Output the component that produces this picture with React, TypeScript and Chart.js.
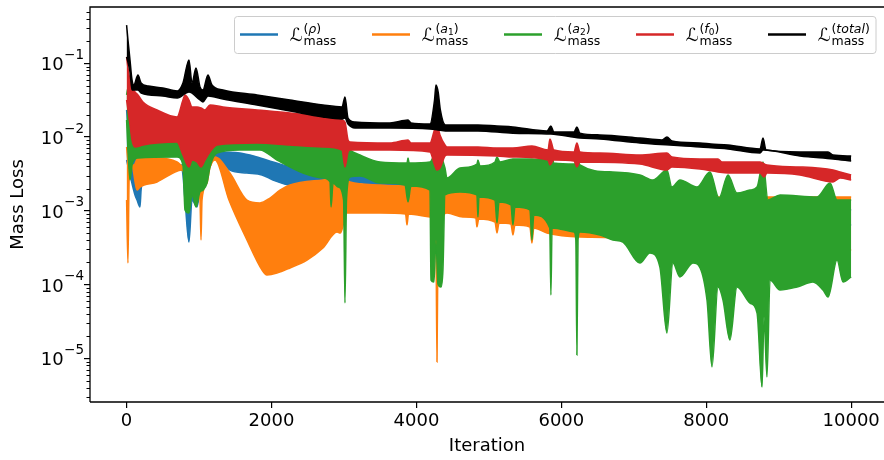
import React, { useEffect, useRef } from 'react';
import { Chart, registerables } from 'chart.js';

Chart.register(...registerables);

// ---------------- data ----------------
const xTickValues = [0, 2000, 4000, 6000, 8000, 10000];
const yTickExponents = [-5, -4, -3, -2, -1];

// total (black)
const totalUpperIter = [0,19,47,75,100,157,200,300,500,700,778,861,903,958,1013,1054,1123,1178,1330,1800,2255,2710,2973,3014,3056,3152,3635,3884,3925,4187,4250,4270,4300,4330,4400,4849,5112,5332,5801,5856,5897,6174,6215,6256,6532,7084,7388,7457,7526,7913,8065,8300,8742,8783,8825,9294,9681,9750,10000];
const totalUpper = [0.33,0.207,0.111,0.0594,0.0508,0.0694,0.0541,0.0492,0.0463,0.0421,0.0541,0.111,0.0541,0.0864,0.0477,0.0434,0.0694,0.0508,0.0434,0.0372,0.0318,0.0272,0.0256,0.0349,0.0181,0.016,0.0155,0.017,0.0155,0.015,0.0318,0.0508,0.0408,0.0233,0.0146,0.0146,0.0141,0.0137,0.0121,0.0141,0.0117,0.0117,0.0137,0.0113,0.0107,0.00971,0.00912,0.01,0.00884,0.0083,0.00805,0.0078,0.00689,0.00971,0.00667,0.00627,0.00627,0.00571,0.00553];
const totalLowerIter = [0,19,47,75,157,200,500,700,861,1013,1054,1123,1330,1800,2255,2710,2973,3014,3056,3152,3635,4187,4400,4849,5332,5856,6256,6532,7084,7913,8300,8742,8783,9294,9750,10000];
const totalLower = [0.1217,0.104,0.0762,0.0434,0.0434,0.0396,0.036,0.0338,0.0408,0.0318,0.0299,0.036,0.0328,0.0272,0.0225,0.0187,0.0176,0.0181,0.015,0.0133,0.0133,0.0129,0.0121,0.0121,0.0113,0.011,0.00971,0.00941,0.0083,0.00733,0.00689,0.00608,0.00667,0.00553,0.00504,0.00473];

// f0 (red)
const f0UpperIter = [0,19,47,75,116,157,226,420,696,778,806,861,903,972,1027,1082,1151,1330,1800,2255,2710,2973,3014,3056,3083,3635,3884,3925,4187,4250,4284,4325,4394,4421,4849,5112,5332,5594,5815,5843,5897,6174,6215,6256,6532,7084,7457,7526,7913,8162,8217,8742,8838,9294,9750,9846,10000];
const f0Upper = [0.122,0.0864,0.0594,0.0477,0.0408,0.0372,0.0299,0.0233,0.0187,0.0318,0.0372,0.0318,0.0256,0.0256,0.0248,0.0233,0.0272,0.0256,0.0233,0.0212,0.0187,0.017,0.016,0.00912,0.00857,0.0083,0.00912,0.0083,0.0083,0.0125,0.0146,0.0107,0.0078,0.00733,0.00733,0.0071,0.0071,0.00756,0.00667,0.00941,0.00667,0.00627,0.0083,0.00627,0.00608,0.00571,0.00608,0.00536,0.00504,0.00504,0.00459,0.00459,0.00418,0.00393,0.00357,0.00336,0.00306];
const f0LowerIter = [0,19,47,75,116,226,420,696,778,861,903,972,1027,1082,1151,1247,1800,2255,2710,2973,3014,3056,3083,3635,4187,4250,4284,4325,4394,4421,5112,5332,5815,5843,5897,6174,6215,6256,7084,7457,7526,7913,8162,8300,8742,8797,8838,9294,9750,9846,10000];
const f0Lower = [0.0318,0.0233,0.0146,0.00912,0.00733,0.0078,0.0083,0.00857,0.00571,0.00393,0.00488,0.00459,0.00393,0.00488,0.00627,0.0078,0.0083,0.0078,0.00733,0.00667,0.00393,0.00627,0.00667,0.00667,0.00627,0.00418,0.00357,0.0038,0.00553,0.00571,0.00553,0.00536,0.00488,0.00418,0.00488,0.00473,0.00393,0.00459,0.00431,0.00357,0.00393,0.00369,0.00336,0.00325,0.00325,0.00287,0.00325,0.00306,0.00246,0.00278,0.00262];

// a2 (green)
const a2UpperIter = [0,19,47,100,700,1300,2900,3014,3083,3221,3497,3870,3884,3900,4187,4284,4394,4421,4601,4835,4849,4877,5084,5112,5153,5332,5594,5830,5856,5897,6190,6215,6256,6711,7084,7264,7457,7526,7637,7871,8051,8176,8300,8424,8604,8701,8783,8852,9018,9529,9708,9805,10000];
const a2Upper = [0.0372,0.0463,0.0318,0.0125,0.0107,0.0107,0.00912,0.0078,0.00667,0.00571,0.00459,0.00445,0.0052,0.00445,0.00459,0.00667,0.0038,0.00278,0.0038,0.00431,0.00488,0.00405,0.00459,0.00536,0.00459,0.00504,0.00504,0.00488,0.00667,0.00445,0.00431,0.00667,0.00418,0.00336,0.00306,0.00262,0.00357,0.0021,0.00262,0.0021,0.00336,0.00149,0.00306,0.00174,0.00191,0.0021,0.00459,0.0014,0.00164,0.00154,0.00238,0.0014,0.0014];
const a2LowerIter = [0,19,47,75,100,157,696,778,806,861,903,958,1013,1054,1110,1151,1247,1564,1841,2075,2434,2710,2807,2822,2850,2918,2995,3014,3035,3083,3221,3497,3842,3884,3925,4187,4201,4242,4270,4297,4339,4366,4394,4601,4835,4849,4863,5084,5112,5140,5304,5332,5360,5566,5594,5620,5840,5856,5872,6174,6200,6215,6230,6256,6532,6711,6849,7084,7222,7360,7457,7540,7637,7816,8010,8079,8162,8231,8327,8424,8604,8701,8770,8797,8838,8880,9018,9253,9473,9611,9681,9805,9888,10000];
const a2Lower = [0.017,0.00667,0.00262,0.00418,0.00488,0.0052,0.00536,0.00418,0.00103,0.000934,0.00164,0.00113,0.0018,0.00191,0.00238,0.00393,0.00608,0.00667,0.00667,0.00488,0.00325,0.00278,0.00246,0.00113,0.00238,0.0021,0.0014,0.0000562,0.0014,0.00287,0.00296,0.00238,0.00224,0.00132,0.00217,0.00191,0.000115,0.000108,0.000402,0.000102,0.0000927,0.000158,0.00164,0.0018,0.00164,0.000824,0.00154,0.0014,0.000683,0.00132,0.0012,0.000642,0.00113,0.00103,0.000402,0.000877,0.000584,0.0000722,0.000584,0.000516,0.000402,0.0000111,0.000402,0.000516,0.00047,0.000402,0.000377,0.000196,0.000268,0.000173,0.000022,0.000196,0.000127,0.000196,0.0000617,0.00000762,0.0000927,0.0000617,0.0000177,0.0000927,0.0000562,0.0000411,0.00000408,0.0000363,0.00000558,0.000115,0.0000843,0.0000927,0.000108,0.0000843,0.0000678,0.000215,0.000108,0.000127];

// a1 (orange)
const a1UpperIter = [0,19,47,100,157,420,696,778,1013,1151,1220,1426,1661,1841,1979,2117,2255,2710,2987,3083,3497,4600,6000,7000,8000,10000];
const a1Upper = [0.00733,0.00488,0.00418,0.00418,0.0052,0.0052,0.00459,0.00393,0.00306,0.00393,0.00536,0.00325,0.0014,0.00128,0.00149,0.00191,0.00224,0.00262,0.00278,0.00246,0.00224,0.00204,0.00164,0.00159,0.00154,0.00154];
const a1LowerIter = [0,19,35,75,144,185,420,640,765,861,958,1013,1027,1041,1110,1151,1220,1413,1661,1868,1937,2075,2255,2490,2710,2904,2950,3042,3497,3850,3870,3890,4187,4270,4284,4297,4421,4642,4820,4835,4860,5084,5112,5140,5304,5332,5360,5566,5594,5620,5801,6256,6711,7000,8000,10000];
const a1Lower = [0.0014,0.000196,0.00262,0.00393,0.00191,0.0021,0.00246,0.00325,0.00357,0.00191,0.00224,0.0014,0.000402,0.0014,0.00238,0.00393,0.00488,0.0014,0.000402,0.000158,0.000135,0.000143,0.000168,0.000215,0.000313,0.000516,0.0005,0.000934,0.000934,0.000905,0.000642,0.000905,0.000824,0.000294,0.00000891,0.000294,0.000934,0.000824,0.000799,0.000603,0.000774,0.000705,0.0005,0.000683,0.000662,0.00047,0.000642,0.000603,0.000366,0.000584,0.0005,0.000441,0.000428,0.000344,0.000294,0.000294];

// rho (blue)
const rhoUpperIter = [0,47,144,420,765,1151,1247,1564,1800,2020,2255,2434,2710,2987,3083,3635,4400,5000,6000,7000,10000];
const rhoUpper = [0.0233,0.00667,0.00488,0.00459,0.00418,0.00488,0.00627,0.00608,0.00536,0.00459,0.00393,0.00336,0.00287,0.00278,0.00306,0.00287,0.00262,0.00224,0.00164,0.0012,0.00103];
const rhoLowerIter = [0,47,116,144,185,200,226,420,765,806,861,903,972,1013,1110,1151,1247,1426,1661,1868,2020,2255,2490,2710,2987,3083,3497,4601,5000,6000,7000,10000];
const rhoLower = [0.00488,0.00306,0.00164,0.0014,0.00113,0.00191,0.00262,0.00336,0.00357,0.0014,0.000377,0.0014,0.00113,0.00191,0.00306,0.00418,0.00536,0.00357,0.00325,0.00306,0.00262,0.00224,0.00224,0.00238,0.00246,0.00246,0.00224,0.00217,0.00191,0.00103,0.000751,0.000642];

// ---------------- chart ----------------
const FONT = '"DejaVu Sans", "Liberation Sans", sans-serif';

type Seg = { t: string; size: number; italic?: boolean; dy?: number };

const legendEntries: { color: string; sup: Seg[] }[] = [
  { color: '#1f77b4', sup: [{ t: '(', size: 12.5 }, { t: 'ρ', size: 12.5, italic: true }, { t: ')', size: 12.5 }] },
  { color: '#ff7f0e', sup: [{ t: '(', size: 12.5 }, { t: 'a', size: 12.5, italic: true }, { t: '1', size: 9, dy: 2.5 }, { t: ')', size: 12.5 }] },
  { color: '#2ca02c', sup: [{ t: '(', size: 12.5 }, { t: 'a', size: 12.5, italic: true }, { t: '2', size: 9, dy: 2.5 }, { t: ')', size: 12.5 }] },
  { color: '#d62728', sup: [{ t: '(', size: 12.5 }, { t: 'f', size: 12.5, italic: true }, { t: '0', size: 9, dy: 2.5 }, { t: ')', size: 12.5 }] },
  { color: '#000000', sup: [{ t: '(', size: 12.5 }, { t: 'total', size: 12.5, italic: true }, { t: ')', size: 12.5 }] },
];

function drawSegs(ctx: CanvasRenderingContext2D, x: number, baseline: number, segs: Seg[]) {
  let cx = x;
  for (const s of segs) {
    ctx.font = `${s.italic ? 'italic ' : ''}${s.size}px ${FONT}`;
    ctx.fillText(s.t, cx, baseline + (s.dy || 0));
    cx += ctx.measureText(s.t).width;
  }
  return cx;
}

const decorPlugin = {
  id: 'decor',
  afterDraw(chart: any) {
    const { ctx, chartArea: a, scales } = chart;
    const y = scales.y;
    ctx.save();
    ctx.strokeStyle = '#000';
    ctx.fillStyle = '#000';
    // minor y ticks
    ctx.lineWidth = 1;
    for (let e = -7; e <= 0; e++) {
      for (let m = 2; m <= 9; m++) {
        const v = m * Math.pow(10, e);
        if (v < y.min || v > y.max) continue;
        const py = Math.round(y.getPixelForValue(v)) + 0.5;
        ctx.beginPath();
        ctx.moveTo(a.left - 3.5, py);
        ctx.lineTo(a.left, py);
        ctx.stroke();
      }
    }
    // y tick labels 10^n
    ctx.textAlign = 'left';
    ctx.textBaseline = 'alphabetic';
    for (const e of yTickExponents) {
      const py = y.getPixelForValue(Math.pow(10, e));
      const exp = '\u2212' + Math.abs(e);
      ctx.font = `13.5px ${FONT}`;
      const we = ctx.measureText(exp).width;
      ctx.font = `18px ${FONT}`;
      const wb = ctx.measureText('10').width;
      const right = 84;
      ctx.fillText('10', right - we - wb - 0.5, py + 7);
      ctx.font = `13.5px ${FONT}`;
      ctx.fillText(exp, right - we, py - 4.5);
    }
    // spines (right spine falls outside the picture)
    ctx.lineWidth = 1.3;
    ctx.beginPath();
    ctx.moveTo(a.left, a.bottom);
    ctx.lineTo(a.left, a.top);
    ctx.lineTo(chart.width, a.top);
    ctx.moveTo(a.left, a.bottom);
    ctx.lineTo(chart.width, a.bottom);
    ctx.stroke();

    // legend
    const bx = 234.5, by = 16.5, bw = 641.5, bh = 37;
    ctx.beginPath();
    if ((ctx as any).roundRect) (ctx as any).roundRect(bx, by, bw, bh, 3);
    else ctx.rect(bx, by, bw, bh);
    ctx.fillStyle = 'rgba(255,255,255,0.8)';
    ctx.fill();
    ctx.strokeStyle = '#cccccc';
    ctx.lineWidth = 1;
    ctx.stroke();
    legendEntries.forEach((en, i) => {
      const x0 = 240 + 132 * i;
      ctx.strokeStyle = en.color;
      ctx.lineWidth = 2.5;
      ctx.beginPath();
      ctx.moveTo(x0, 34.5);
      ctx.lineTo(x0 + 38, 34.5);
      ctx.stroke();
      ctx.fillStyle = '#000';
      ctx.font = `18px ${FONT}`;
      const lx = x0 + 50;
      ctx.fillText('\u2112', lx, 41);
      const wl = ctx.measureText('\u2112').width;
      drawSegs(ctx, lx + wl + 0.5, 32.5, en.sup);
      drawSegs(ctx, lx + wl + 0.5, 44.5, [{ t: 'mass', size: 12.5 }]);
    });
    ctx.restore();
  },
};

function pts(xs: number[], ys: number[]) {
  return xs.map((x, i) => ({ x, y: ys[i] }));
}

export default function App() {
  const ref = useRef<HTMLCanvasElement | null>(null);
  useEffect(() => {
    document.body.style.margin = '0';
    const canvas = ref.current;
    if (!canvas) return;
    const series = [
      { color: '#000000', ux: totalUpperIter, uy: totalUpper, lx: totalLowerIter, ly: totalLower },
      { color: '#d62728', ux: f0UpperIter, uy: f0Upper, lx: f0LowerIter, ly: f0Lower },
      { color: '#2ca02c', ux: a2UpperIter, uy: a2Upper, lx: a2LowerIter, ly: a2Lower },
      { color: '#ff7f0e', ux: a1UpperIter, uy: a1Upper, lx: a1LowerIter, ly: a1Lower },
      { color: '#1f77b4', ux: rhoUpperIter, uy: rhoUpper, lx: rhoLowerIter, ly: rhoLower },
    ];
    const datasets: any[] = [];
    for (const s of series) {
      datasets.push({
        data: pts(s.ux, s.uy),
        borderColor: s.color,
        backgroundColor: s.color,
        borderWidth: 1.5,
        pointRadius: 0,
        cubicInterpolationMode: 'monotone',
        fill: '+1',
      });
      datasets.push({
        data: pts(s.lx, s.ly),
        borderColor: s.color,
        backgroundColor: s.color,
        borderWidth: 1.5,
        pointRadius: 0,
        cubicInterpolationMode: 'monotone',
        fill: false,
      });
    }
    const chart = new Chart(canvas, {
      type: 'line',
      data: { datasets },
      options: {
        responsive: false,
        animation: false,
        devicePixelRatio: 1,
        events: [],
        layout: { padding: { top: 7, left: 0, right: 0, bottom: 0 } },
        plugins: {
          legend: { display: false },
          tooltip: { enabled: false },
          title: { display: false },
        },
        scales: {
          x: {
            type: 'linear',
            min: -505,
            max: 10453,
            afterBuildTicks: (s: any) => {
              s.ticks = xTickValues.map((v) => ({ value: v }));
            },
            afterFit: (s: any) => {
              s.height = 58;
            },
            ticks: {
              autoSkip: false,
              maxRotation: 0,
              color: '#000',
              padding: 3,
              font: { family: FONT, size: 18 },
              callback: (v: any) => String(v),
            },
            grid: { drawOnChartArea: false, drawTicks: true, tickLength: 6, color: '#000', lineWidth: 1.2 },
            border: { display: false },
            title: {
              display: true,
              text: 'Iteration',
              color: '#000',
              font: { family: FONT, size: 18 },
              padding: { top: 0, bottom: 3 },
            },
          },
          y: {
            type: 'logarithmic',
            min: 2.556e-6,
            max: 0.58,
            afterBuildTicks: (s: any) => {
              s.ticks = yTickExponents.map((e) => ({ value: Math.pow(10, e), major: true }));
            },
            afterFit: (s: any) => {
              s.width = 90;
            },
            ticks: { display: false },
            grid: { drawOnChartArea: false, drawTicks: true, tickLength: 6, color: '#000', lineWidth: 1.2 },
            border: { display: false },
            title: {
              display: true,
              text: 'Mass Loss',
              color: '#000',
              font: { family: FONT, size: 18 },
              padding: { top: 8, bottom: 0 },
            },
          },
        },
      },
      plugins: [decorPlugin],
    } as any);
    return () => chart.destroy();
  }, []);
  return (
    <div style={{ position: 'absolute', left: 0, top: 0, width: 884, height: 460, overflow: 'hidden', background: '#fff' }}>
      <canvas ref={ref} width={884} height={460} style={{ display: 'block', width: 884, height: 460 }} />
    </div>
  );
}
